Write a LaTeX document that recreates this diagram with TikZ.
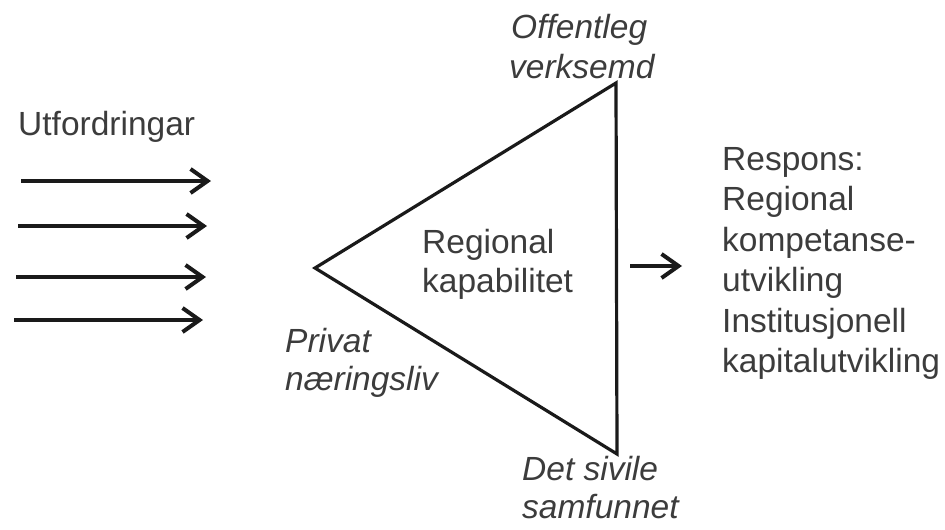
\documentclass[tikz,border=0pt]{standalone}
\usepackage{fontspec}
\setmainfont{Liberation Sans}
\usetikzlibrary{arrows.meta}
\definecolor{txt}{HTML}{3C3C3C}
\definecolor{ln}{HTML}{1A1A1A}
\tikzset{
  lbl/.style={anchor=base west, inner sep=0pt, text=txt, font=\fontsize{33.5}{40}\selectfont},
  ilbl/.style={lbl, font=\fontsize{33.5}{40}\selectfont\itshape},
  inarrow/.style={draw=ln, line width=4pt, -{Straight Barb[length=17pt,width=24pt]}},
  tri/.style={draw=ln, line width=3.2pt, line join=miter}
}
\begin{document}
\begin{tikzpicture}[x=1pt,y=-1pt]
\useasboundingbox (0,0) rectangle (945,530);
% triangle
\coordinate (top) at (616,83);
\coordinate (bot) at (617,454);
\coordinate (lft) at (315,268);
\draw[tri] (top) -- (lft) -- (bot) -- cycle;
% input arrows
\coordinate (a1s) at (21,181);  \coordinate (a1e) at (211,181);
\coordinate (a2s) at (18,226);  \coordinate (a2e) at (207,226);
\coordinate (a3s) at (16,277);  \coordinate (a3e) at (206,277);
\coordinate (a4s) at (14,320);  \coordinate (a4e) at (203,320);
\draw[inarrow] (a1s) -- (a1e);
\draw[inarrow] (a2s) -- (a2e);
\draw[inarrow] (a3s) -- (a3e);
\draw[inarrow] (a4s) -- (a4e);
% output arrow
\coordinate (os) at (630,266); \coordinate (oe) at (682,266);
\draw[inarrow] (os) -- (oe);
% texts
\node[lbl] (utf) at (18,135) {Utfordringar};
\node[ilbl] (off1) at (511,38) {Offentleg};
\node[ilbl] (off2) at (509,78) {verksemd};
\node[lbl] (reg1) at (422,253) {Regional};
\node[lbl] (reg2) at (422,292) {kapabilitet};
\node[ilbl] (pri1) at (285,352) {Privat};
\node[ilbl] (pri2) at (285,390) {næringsliv};
\node[ilbl] (det1) at (522,480) {Det sivile};
\node[ilbl] (det2) at (522,518) {samfunnet};
\node[lbl] (r1) at (722,170) {Respons:};
\node[lbl] (r2) at (722,210.5) {Regional};
\node[lbl] (r3) at (722,251) {kompetanse-};
\node[lbl] (r4) at (722,291.5) {utvikling};
\node[lbl] (r5) at (722,332) {Institusjonell};
\node[lbl] (r6) at (722,372) {kapitalutvikling};
\end{tikzpicture}
\end{document}
